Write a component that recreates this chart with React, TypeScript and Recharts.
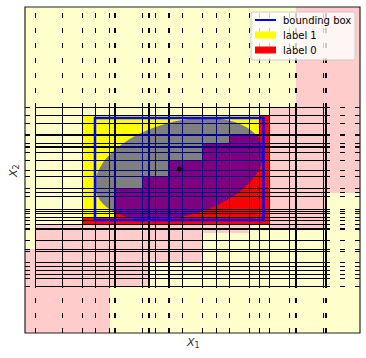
import React from "react";
import {
  ComposedChart,
  XAxis,
  YAxis,
  ReferenceArea,
  ReferenceLine,
  ReferenceDot,
  Customized,
} from "recharts";

// plot units (no ticks in the original, so these are just plot-space units)
const xDomain = [0, 335];
const yDomain = [0, 326];

// split positions drawn as lines
const xSplits = [10.7, 37.3, 57.3, 70.7, 84.7, 90, 117.3, 124, 130.7, 144, 157.3, 177.3, 191.3, 204.3, 224.3, 234.3, 244.3, 264.3, 271, 298.3, 301];
const ySplits = [225.7, 217.7, 209.7, 198, 189.7, 186, 180.7, 172.5, 162.5, 156.8, 144.5, 140.5, 136.5, 123.7, 121.7, 119.7, 115.2, 112.2, 108.8, 104, 92.2, 83.2, 81.8, 70.5, 66.5, 62.7, 58.7, 54.8, 46.8];

// faint decision regions, [x1, x2, y1, y2]
const faintLabel0 = [
  [271, 335, 140.5, 326],
  [244.3, 301, 104, 225.7],
  [10.7, 224.3, 100, 108],
  [10.7, 177.3, 71, 108],
  [10.7, 124, 46.8, 108],
  [0, 84.7, 0, 46.8],
  [0, 10.7, 0, 84],
];

// strong cells inside the box
const cellLabel1 = [[57.3, 244.3, 108, 217.7]];
const cellLabel0 = [
  [234.3, 244.3, 108, 217.7],
  [204.3, 244.3, 108, 198],
  [177.3, 244.3, 108, 189.7],
  [144, 244.3, 108, 172.5],
  [117.3, 244.3, 108, 156.8],
  [90, 244.3, 108, 144.5],
  [57.3, 244.3, 108, 115.2],
];

const boundingBox = [70, 238.5, 113, 215];
const ellipseCenter = { x: 154.25, y: 164 };
const ellipseAxes = { a: 86.4, b: 47.3 };
const ellipseAngle = 15.3;

const legendItems = [
  { name: "bounding box", kind: "line", color: "#0000ff" },
  { name: "label 1", kind: "patch", color: "#ffff00" },
  { name: "label 0", kind: "patch", color: "#ff0000" },
];

const FONT = "DejaVu Sans, sans-serif";

function AxisLabels() {
  return (
    <g fontFamily={FONT}>
      <text x={187} y={346} fontSize={11} fill="#333" fontStyle="italic">
        X<tspan fontSize={8} dy={2} fontStyle="normal">1</tspan>
      </text>
      <text x={17} y={177} fontSize={11} fill="#333" fontStyle="italic" transform="rotate(-90 17 177)">
        X<tspan fontSize={8} dy={2} fontStyle="normal">2</tspan>
      </text>
    </g>
  );
}

function LegendBox() {
  return (
    <svg width={106} height={50} style={{ position: "absolute", left: 250, top: 11, pointerEvents: "none" }}>
      <rect x={1} y={1} width={104} height={48} rx={2} fill="#fff" fillOpacity={0.8} stroke="#ccc" />
      {legendItems.map((it, i) => {
        const cy = 9 + i * 15;
        return (
          <g key={it.name}>
            {it.kind === "line" ? (
              <line x1={5} x2={26} y1={cy} y2={cy} stroke={it.color} strokeWidth={2} />
            ) : (
              <rect x={5} y={cy - 3.5} width={21} height={7} fill={it.color} />
            )}
            <text x={33} y={cy + 3.5} fontSize={10} fill="#000" fontFamily={FONT}>
              {it.name}
            </text>
          </g>
        );
      })}
    </svg>
  );
}

export default function App() {
  const yMin = Math.min(...ySplits);
  const yMax = Math.max(...ySplits);
  const xMin = Math.min(...xSplits);
  const xMax = Math.max(...xSplits);
  const lineProps = { stroke: "#000", strokeWidth: 1.3, shapeRendering: "crispEdges" } as any;
  return (
    <div style={{ position: "absolute", left: 0, top: 0, width: 366, height: 358, background: "#fff" }}>
      <ComposedChart width={366} height={358} margin={{ top: 7, right: 6, bottom: 25, left: 25 }} data={[]}>
        <XAxis type="number" dataKey="x" domain={xDomain} hide allowDataOverflow />
        <YAxis type="number" dataKey="y" domain={yDomain} hide allowDataOverflow />
        <ReferenceArea x1={xDomain[0]} x2={xDomain[1]} y1={yDomain[0]} y2={yDomain[1]} fill="#ffffcc" fillOpacity={1} stroke="none" zIndex={100} />
        {faintLabel0.map((r, i) => (
          <ReferenceArea key={"f" + i} x1={r[0]} x2={r[1]} y1={r[2]} y2={r[3]} fill="#ffcccc" fillOpacity={1} stroke="none" shapeRendering="crispEdges" zIndex={101} />
        ))}
        {cellLabel1.map((r, i) => (
          <ReferenceArea key={"y" + i} x1={r[0]} x2={r[1]} y1={r[2]} y2={r[3]} fill="#ffff00" fillOpacity={1} stroke="none" shapeRendering="crispEdges" zIndex={102} />
        ))}
        {cellLabel0.map((r, i) => (
          <ReferenceArea key={"r" + i} x1={r[0]} x2={r[1]} y1={r[2]} y2={r[3]} fill="#ff0000" fillOpacity={1} stroke="none" shapeRendering="crispEdges" zIndex={103} />
        ))}
        {xSplits.map((x) => (
          <ReferenceLine key={"vd" + x} segment={[{ x, y: yDomain[0] }, { x, y: yDomain[1] }]} {...lineProps} strokeDasharray="5 10" zIndex={110} />
        ))}
        {ySplits.map((y) => (
          <ReferenceLine key={"hd" + y} segment={[{ x: xDomain[0], y }, { x: xDomain[1], y }]} {...lineProps} strokeDasharray="5 10" zIndex={110} />
        ))}
        {xSplits.map((x) => (
          <ReferenceLine key={"vs" + x} segment={[{ x, y: yMin }, { x, y: yMax }]} {...lineProps} zIndex={111} />
        ))}
        {ySplits.map((y) => (
          <ReferenceLine key={"hs" + y} segment={[{ x: xMin, y }, { x: xMax, y }]} {...lineProps} zIndex={111} />
        ))}
        <ReferenceArea x1={boundingBox[0]} x2={boundingBox[1]} y1={boundingBox[2]} y2={boundingBox[3]} fill="none" stroke="#0000ff" strokeWidth={2.5} zIndex={120} />
        <ReferenceArea
          x1={ellipseCenter.x - ellipseAxes.a}
          x2={ellipseCenter.x + ellipseAxes.a}
          y1={ellipseCenter.y - ellipseAxes.b}
          y2={ellipseCenter.y + ellipseAxes.b}
          zIndex={130}
          shape={(p: any) => {
            const cx = p.x + p.width / 2;
            const cy = p.y + p.height / 2;
            return (
              <ellipse cx={cx} cy={cy} rx={p.width / 2} ry={p.height / 2} fill="#0000ff" fillOpacity={0.5} transform={`rotate(${-ellipseAngle} ${cx} ${cy})`} />
            );
          }}
        />
        <ReferenceDot x={ellipseCenter.x} y={ellipseCenter.y} r={2.5} fill="#000" stroke="none" zIndex={140} />
        <ReferenceArea x1={xDomain[0]} x2={xDomain[1]} y1={yDomain[0]} y2={yDomain[1]} fill="none" stroke="#222" strokeWidth={1.2} zIndex={150} />
        <Customized component={AxisLabels} />
      </ComposedChart>
      <LegendBox />
    </div>
  );
}
